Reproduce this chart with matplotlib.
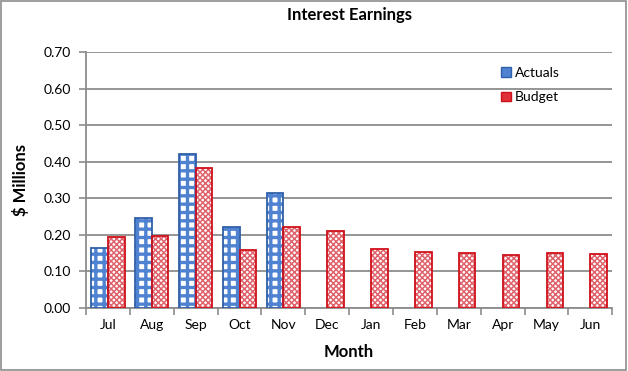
import matplotlib.pyplot as plt
import numpy as np
from matplotlib.patches import Patch

MONTHS = ["Jul", "Aug", "Sep", "Oct", "Nov", "Dec", "Jan", "Feb", "Mar", "Apr", "May", "Jun"]
ACTUALS = [0.163, 0.247, 0.420, 0.220, 0.313]
BUDGET = [0.193, 0.198, 0.384, 0.159, 0.220, 0.211, 0.160, 0.154, 0.149, 0.144, 0.150, 0.147]
Y_TICKS = [0.0, 0.1, 0.2, 0.3, 0.4, 0.5, 0.6, 0.7]

BLUE = "#2f5fa8"
RED = "#d0111b"
GRID = "#8c8c8c"

plt.rcParams["font.family"] = ["Lato", "DejaVu Sans"]


def hatch_lw(artists, lw):
    for a in artists:
        if hasattr(a, "set_hatch_linewidth"):
            a.set_hatch_linewidth(lw)


fig = plt.figure(figsize=(6.28, 3.71), dpi=100)
ax = fig.add_axes([0.137, 0.170, 0.838, 0.690])

x = np.arange(len(MONTHS))
width = 0.38

xa = x[: len(ACTUALS)] - width / 2
bars = ax.bar(xa, ACTUALS, width=width, facecolor="white", edgecolor="#4f82d0", hatch="++", linewidth=0, zorder=3)
hatch_lw(bars, 2.4)
ax.bar(xa, ACTUALS, width=width, facecolor="none", edgecolor=BLUE, linewidth=1.3, zorder=4)

bars = ax.bar(x + width / 2, BUDGET, width=width, facecolor="white", edgecolor="#e0626b", hatch="xxxxxx", linewidth=0, zorder=3)
hatch_lw(bars, 1.1)
ax.bar(x + width / 2, BUDGET, width=width, facecolor="none", edgecolor=RED, linewidth=1.3, zorder=4)

ax.set_xlim(-0.5, len(MONTHS) - 0.5)
ax.set_ylim(0, 0.7)
ax.set_yticks(Y_TICKS)
ax.set_yticklabels([f"{v:.2f}" for v in Y_TICKS], fontsize=10)
ax.set_xticks(x)
ax.set_xticklabels(MONTHS, fontsize=10)
ax.set_xticks(np.arange(-0.5, len(MONTHS)), minor=True)
ax.tick_params(axis="x", which="major", length=0, pad=8)
ax.tick_params(axis="x", which="minor", length=5, color=GRID, width=1.2)
ax.tick_params(axis="y", length=5, color=GRID, width=1.2, pad=6)

ax.grid(axis="y", color=GRID, linewidth=1.3, zorder=0)
ax.set_axisbelow(True)
for side in ["top", "right"]:
    ax.spines[side].set_visible(False)
for side in ["left", "bottom"]:
    ax.spines[side].set_color(GRID)
    ax.spines[side].set_linewidth(1.3)

ax.set_title("Interest Earnings", fontsize=12, fontweight="bold", pad=23)
ax.set_xlabel("Month", fontsize=12, fontweight="bold", labelpad=9)
ax.set_ylabel("$ Millions", fontsize=12, fontweight="bold", labelpad=10)

handles = [
    Patch(facecolor="#4f82d0", edgecolor=BLUE, label="Actuals"),
    Patch(facecolor="#e0303a", edgecolor=RED, label="Budget"),
]
ax.legend(handles=handles, loc="upper left", bbox_to_anchor=(0.765, 0.99), frameon=False,
          fontsize=10, handlelength=0.7, handleheight=0.7, handletextpad=0.3, labelspacing=0.9)

fig.patches.append(plt.Rectangle((0.002, 0.003), 0.995, 0.993, transform=fig.transFigure,
                                 fill=False, edgecolor="#8c8c8c", linewidth=1.2))

fig.savefig("out.png", dpi=100)
